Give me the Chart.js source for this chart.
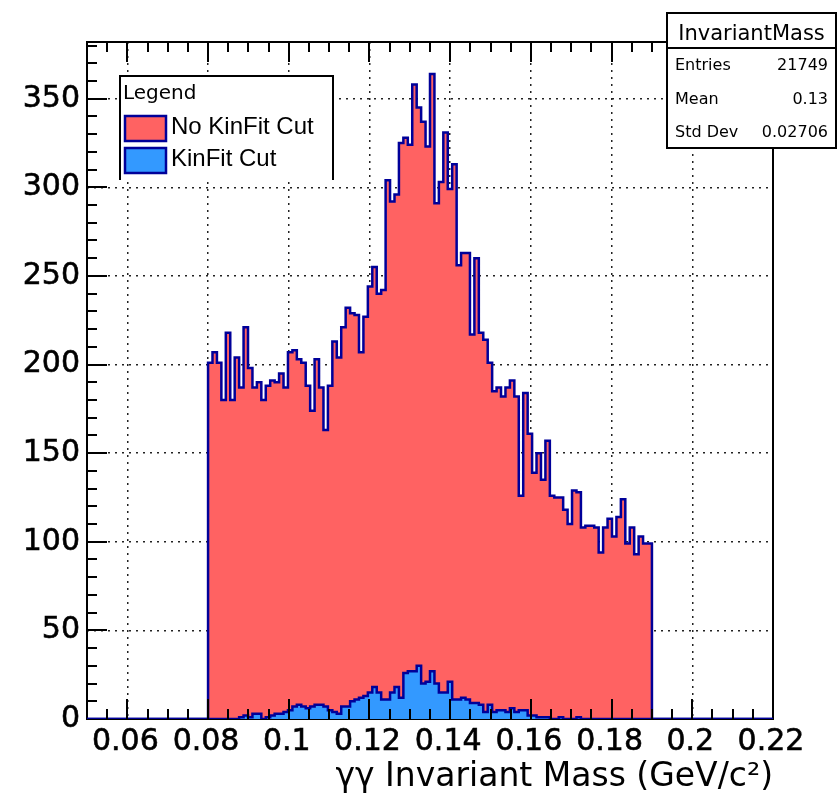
<!DOCTYPE html>
<html>
<head>
<meta charset="utf-8">
<title>Invariant Mass</title>
<script src="https://cdn.jsdelivr.net/npm/chart.js@4.4.1/dist/chart.umd.min.js"></script>
<style>
  html, body { margin: 0; padding: 0; background: #fff; }
  canvas { display: block; }
</style>
</head>
<body>
<canvas id="massChart" width="839" height="799"></canvas>
<script>
// binning of the histograms and range of the axis (GeV/c^2)
const histMin = 0.08;
const histMax = 0.19;
const axisMin = 0.05;
const axisMax = 0.22;

// counts per bin, 100 bins between histMin and histMax
const noCutCounts = [
  201, 207, 201, 180, 218, 180, 204, 187, 221, 198,
  187, 190, 180, 188, 191, 190, 195, 187, 207, 208,
  203, 201, 188, 174, 203, 187, 163, 188, 213, 204,
  221, 232, 229, 228, 207, 227, 244, 255, 240, 242,
  304, 292, 296, 325, 328, 324, 358, 345, 337, 323,
  364, 291, 303, 331, 299, 313, 256, 263, 263, 217,
  260, 218, 214, 201, 185, 187, 182, 187, 191, 182,
  126, 184, 161, 139, 150, 135, 157, 126, 125, 125,
  118, 110, 129, 128, 108, 109, 109, 108, 94, 108,
  113, 103, 114, 124, 99, 108, 93, 103, 99, 99
];
const kinFitCounts = [
  0, 0, 0, 0, 0, 0, 0, 1, 2, 1,
  3, 3, 0, 1, 2, 3, 3, 4, 5, 7,
  8, 7, 6, 7, 8, 8, 7, 5, 4, 3,
  7, 7, 10, 11, 12, 13, 15, 18, 15, 11,
  11, 15, 18, 12, 26, 27, 27, 30, 20, 21,
  27, 20, 15, 15, 21, 11, 11, 12, 11, 9,
  9, 8, 4, 8, 4, 5, 5, 4, 6, 4,
  5, 5, 2, 2, 1, 1, 1, 0, 0, 1,
  0, 0, 0, 1, 0, 0, 0, 0, 0, 0,
  0, 0, 0, 0, 0, 0, 0, 0, 0, 0
];

const xTickValues = [0.06, 0.08, 0.1, 0.12, 0.14, 0.16, 0.18, 0.2, 0.22];
const xTickLabels = ['0.06', '0.08', '0.1', '0.12', '0.14', '0.16', '0.18', '0.2', '0.22'];
const yTickValues = [0, 50, 100, 150, 200, 250, 300, 350];

const legendNames = ['No KinFit Cut', 'KinFit Cut'];
const statTitle = 'InvariantMass';
const statNames = ['Entries', 'Mean', 'Std Dev'];
const statValues = ['21749', '0.13', '0.02706'];

const fillRed = '#ff6262';
const fillBlue = '#3399ff';
const lineBlue = '#000099';

// outline points of a histogram: both edges of every bin, closed to zero
function histPoints(counts) {
  const w = (histMax - histMin) / counts.length;
  const pts = [{x: axisMin, y: 0}, {x: histMin, y: 0}];
  counts.forEach((c, i) => {
    pts.push({x: histMin + i * w, y: c});
    pts.push({x: histMin + (i + 1) * w, y: c});
  });
  pts.push({x: histMax, y: 0}, {x: axisMax, y: 0});
  return pts;
}

// frame, inner tick marks, legend box and stats box
const rootStyle = {
  id: 'rootStyle',
  beforeDatasetsDraw(chart) {
    const {ctx, chartArea: a} = chart;
    ctx.save();
    ctx.strokeStyle = '#000';
    ctx.lineWidth = 2;
    ctx.strokeRect(a.left, a.top, a.right - a.left, a.bottom - a.top);
    ctx.restore();
  },
  afterDatasetsDraw(chart) {
    const {ctx, chartArea: a} = chart;
    const xs = chart.scales.x, ys = chart.scales.y;
    ctx.save();
    ctx.strokeStyle = '#000';
    ctx.lineWidth = 2;
    ctx.beginPath();
    for (let k = 1; k < 34; k++) {
      const px = Math.round(xs.getPixelForValue(axisMin + k * 0.005));
      const len = k % 4 === 2 ? 20 : 10;
      ctx.moveTo(px, a.bottom); ctx.lineTo(px, a.bottom - len);
      ctx.moveTo(px, a.top); ctx.lineTo(px, a.top + len);
    }
    for (let k = 1; k < 39; k++) {
      const py = Math.round(ys.getPixelForValue(k * 10));
      const len = k % 5 === 0 ? 20 : 10;
      ctx.moveTo(a.left, py); ctx.lineTo(a.left + len, py);
    }
    ctx.stroke();
    ctx.restore();
  },
  afterDraw(chart) {
    const {ctx} = chart;
    ctx.save();

    // legend
    ctx.fillStyle = '#fff';
    ctx.fillRect(120, 76, 213, 104);
    ctx.strokeStyle = '#000';
    ctx.lineWidth = 2;
    ctx.beginPath();
    ctx.moveTo(120, 180); ctx.lineTo(120, 76); ctx.lineTo(333, 76); ctx.lineTo(333, 180);
    ctx.stroke();
    ctx.fillStyle = '#000';
    ctx.textBaseline = 'alphabetic';
    ctx.textAlign = 'left';
    ctx.font = '20px "DejaVu Sans"';
    ctx.fillText('Legend', 123, 99);
    const swatches = [fillRed, fillBlue];
    const baselines = [134, 166];
    legendNames.forEach((name, i) => {
      const top = baselines[i] - 18;
      ctx.fillStyle = swatches[i];
      ctx.fillRect(125, top, 41, 25);
      ctx.strokeStyle = lineBlue;
      ctx.lineWidth = 2.5;
      ctx.strokeRect(125, top, 41, 25);
      ctx.fillStyle = '#000';
      ctx.font = '24px "Liberation Sans"';
      ctx.fillText(name, 171, baselines[i]);
    });

    // stats box
    ctx.fillStyle = '#fff';
    ctx.fillRect(667, 13, 169, 135);
    ctx.strokeStyle = '#000';
    ctx.lineWidth = 2;
    ctx.strokeRect(667, 13, 169, 135);
    ctx.beginPath();
    ctx.moveTo(667, 48); ctx.lineTo(836, 48);
    ctx.stroke();
    ctx.fillStyle = '#000';
    ctx.font = '21px "DejaVu Sans"';
    ctx.textAlign = 'center';
    ctx.fillText(statTitle, 751.5, 40);
    ctx.font = '16px "DejaVu Sans"';
    const rows = [70, 104, 137];
    statNames.forEach((name, i) => {
      ctx.textAlign = 'left';
      ctx.fillText(name, 675, rows[i]);
      ctx.textAlign = 'right';
      ctx.fillText(statValues[i], 828, rows[i]);
    });
    ctx.restore();
  }
};

const gridStyle = {color: '#222', lineWidth: 1.5, drawTicks: false};

new Chart(document.getElementById('massChart'), {
  type: 'line',
  data: {
    datasets: [
      {
        label: legendNames[0],
        data: histPoints(noCutCounts),
        borderColor: lineBlue,
        backgroundColor: fillRed,
        borderWidth: 2.5,
        fill: 'origin',
        pointRadius: 0,
        tension: 0,
        order: 2
      },
      {
        label: legendNames[1],
        data: histPoints(kinFitCounts),
        borderColor: lineBlue,
        backgroundColor: fillBlue,
        borderWidth: 2.5,
        fill: 'origin',
        pointRadius: 0,
        tension: 0,
        order: 1
      }
    ]
  },
  options: {
    responsive: false,
    animation: false,
    devicePixelRatio: 1,
    layout: {padding: {left: 0, top: 42, right: 66, bottom: 0}},
    plugins: {
      legend: {display: false},
      tooltip: {enabled: false}
    },
    scales: {
      x: {
        type: 'linear',
        min: axisMin,
        max: axisMax,
        afterBuildTicks: s => { s.ticks = xTickValues.map(v => ({value: v})); },
        afterFit: s => { s.height = 80; },
        grid: gridStyle,
        border: {display: false, dash: [2, 5]},
        ticks: {
          autoSkip: false,
          maxRotation: 0,
          padding: 5,
          labelOffset: -2,
          color: '#000',
          textStrokeColor: '#000',
          textStrokeWidth: 0.6,
          font: {family: 'DejaVu Sans', size: 30},
          callback: (v, i) => xTickLabels[i]
        },
        title: {
          display: true,
          text: 'γγ Invariant Mass (GeV/c²)',
          align: 'end',
          color: '#000',
          font: {family: 'DejaVu Sans', size: 33},
          padding: {top: 0, bottom: 2}
        }
      },
      y: {
        min: 0,
        max: 382,
        afterBuildTicks: s => { s.ticks = yTickValues.map(v => ({value: v})); },
        afterFit: s => { s.width = 87; },
        grid: gridStyle,
        border: {display: false, dash: [2, 5]},
        ticks: {
          padding: 7,
          color: '#000',
          textStrokeColor: '#000',
          textStrokeWidth: 0.6,
          font: {family: 'DejaVu Sans', size: 30}
        }
      }
    }
  },
  plugins: [rootStyle]
});
</script>
</body>
</html>
